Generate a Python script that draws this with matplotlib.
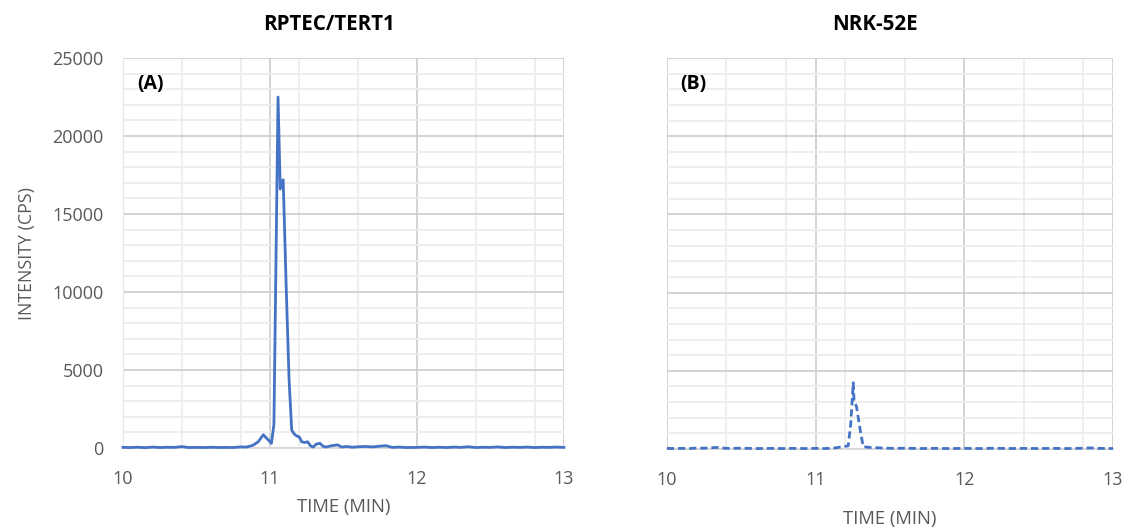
import matplotlib
matplotlib.use("Agg")
from matplotlib import pyplot as plt
from matplotlib.ticker import MultipleLocator

# chromatogram traces, time in min, intensity in cps
rptec_time = [10.00, 10.05, 10.10, 10.15, 10.20, 10.25, 10.30, 10.35, 10.40, 10.45,
              10.50, 10.55, 10.60, 10.65, 10.70, 10.75, 10.80, 10.84, 10.886, 10.92,
              10.955, 10.98, 11.01, 11.027, 11.055, 11.07, 11.09, 11.11, 11.13, 11.148,
              11.165, 11.182, 11.20, 11.216, 11.236, 11.256, 11.275, 11.293, 11.315, 11.34,
              11.36, 11.38, 11.42, 11.46, 11.49, 11.52, 11.56, 11.60, 11.65, 11.70,
              11.75, 11.79, 11.83, 11.88, 11.93, 12.00, 12.05, 12.10, 12.15, 12.20,
              12.25, 12.30, 12.35, 12.40, 12.45, 12.50, 12.55, 12.60, 12.65, 12.70,
              12.75, 12.80, 12.85, 12.90, 12.95, 13.00]
rptec_cps = [40, 30, 50, 20, 60, 30, 50, 40, 90, 30,
             40, 30, 50, 30, 40, 30, 70, 60, 180, 400,
             850, 600, 300, 1500, 22500, 16600, 17200, 10500, 4400, 1150,
             900, 770, 700, 400, 350, 400, 150, 60, 250, 300,
             120, 60, 150, 200, 60, 100, 50, 80, 100, 70,
             120, 150, 40, 60, 30, 40, 60, 30, 50, 30,
             60, 40, 80, 30, 50, 40, 70, 30, 50, 40,
             60, 30, 50, 40, 60, 40]

nrk_time = [10.00, 10.05, 10.10, 10.15, 10.20, 10.25, 10.30, 10.334, 10.37, 10.42,
            10.48, 10.55, 10.62, 10.70, 10.78, 10.85, 10.92, 11.00, 11.06, 11.117,
            11.184, 11.219, 11.236, 11.253, 11.258, 11.275, 11.30, 11.32, 11.365, 11.41,
            11.466, 11.52, 11.60, 11.70, 11.80, 11.90, 12.00, 12.10, 12.20, 12.30,
            12.40, 12.50, 12.60, 12.70, 12.80, 12.85, 12.90, 13.00]
nrk_cps = [40, 30, 40, 30, 60, 50, 80, 100, 60, 40,
           50, 40, 30, 40, 30, 40, 30, 40, 30, 50,
           150, 200, 1600, 4240, 3100, 2700, 1200, 150, 100, 80,
           60, 40, 50, 30, 40, 30, 40, 30, 50, 30,
           40, 30, 40, 30, 50, 70, 40, 30]

line_color = "#4472C4"
label_color = "#595959"
plt.rcParams["font.family"] = ["Open Sans", "DejaVu Sans"]

fig = plt.figure(figsize=(11.27, 5.27), dpi=100)
ax1 = fig.add_axes([0.1091, 0.1499, 0.3913, 0.74])
ax2 = fig.add_axes([0.5918, 0.1480, 0.3958, 0.7419])

ax1.plot(rptec_time, rptec_cps, color=line_color, lw=2.0, solid_joinstyle="round",
         zorder=3, clip_on=False)
ax2.plot(nrk_time, nrk_cps, color=line_color, lw=2.0, linestyle=(0, (2.6, 1.4)),
         zorder=3, clip_on=False)

for ax in (ax1, ax2):
    ax.set_xlim(10, 13)
    ax.set_ylim(0, 25000)
    ax.xaxis.set_major_locator(MultipleLocator(1))
    ax.xaxis.set_minor_locator(MultipleLocator(0.4))
    ax.yaxis.set_major_locator(MultipleLocator(5000))
    ax.yaxis.set_minor_locator(MultipleLocator(1000))
    ax.grid(which="major", color="#D0D0D0", lw=1.3)
    ax.grid(which="minor", color="#EDEDED", lw=1.3)
    ax.set_axisbelow(True)
    for side in ("top", "right"):
        ax.spines[side].set_visible(False)
    ax.spines["left"].set_color("#E6E6E6")
    ax.spines["bottom"].set_color("#D9D9D9")
    ax.spines["bottom"].set_linewidth(1.3)
    ax.tick_params(which="both", length=0)
    ax.tick_params(axis="x", pad=16, labelsize=13, labelcolor=label_color)
    ax.tick_params(axis="y", pad=14, labelsize=13, labelcolor=label_color)

ax2.tick_params(axis="y", labelleft=False)
ax2.spines["left"].set_visible(False)

ax1.set_ylabel("INTENSITY (CPS)", fontsize=12.8, color=label_color, labelpad=12)
ax1.set_xlabel("TIME (MIN)", fontsize=13.3, color=label_color, labelpad=7)
ax2.set_xlabel("TIME (MIN)", fontsize=13.3, color=label_color, labelpad=15)

ax1.text(11.4, 27150, "RPTEC/TERT1", ha="center", va="center", fontsize=14.8, fontweight="bold")
ax2.text(11.4, 27150, "NRK-52E", ha="center", va="center", fontsize=14.8, fontweight="bold")
ax1.text(10.095, 23330, "(A)", ha="left", va="center", fontsize=14, fontweight="bold")
ax2.text(10.09, 23330, "(B)", ha="left", va="center", fontsize=14, fontweight="bold")

fig.savefig("out.png", dpi=100)
